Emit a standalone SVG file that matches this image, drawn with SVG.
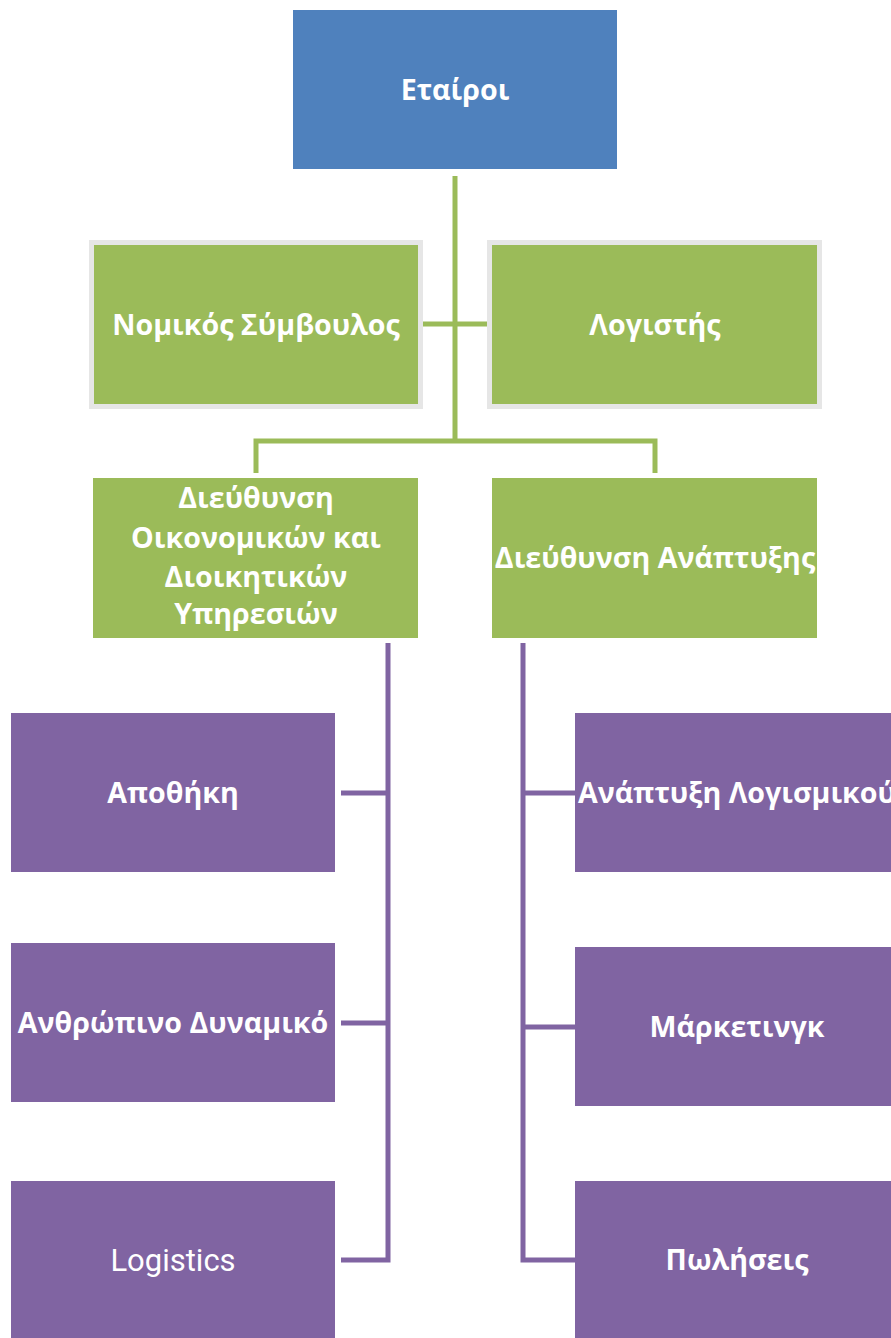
<svg xmlns="http://www.w3.org/2000/svg" width="891" height="1338" viewBox="0 0 891 1338">
<style>
.t{font-family:"Open Sans","Noto Sans","DejaVu Sans",sans-serif;font-weight:bold;font-size:28.6px;fill:#fff;text-anchor:middle}
.blue{fill:#4F81BD}
.green{fill:#9BBB59}
.greenb{fill:#9BBB59;stroke:#E6E6E6;stroke-width:5}
.purple{fill:#8064A2}
.cg{fill:none;stroke:#9BBB59;stroke-width:5}
.cp{fill:none;stroke:#8064A2;stroke-width:5}
</style>
<rect width="891" height="1338" fill="#fff"/>
<g id="connectors">
<line class="cg" x1="455" y1="176" x2="455" y2="441"/>
<line class="cg" x1="423" y1="324" x2="488" y2="324"/>
<path class="cg" d="M256 473 V441 H655 V473"/>
<path class="cp" d="M388 643 V1260 H341 M341 793 H388 M341 1023 H388"/>
<path class="cp" d="M523 643 V1260 H575 M523 793 H575 M523 1027 H575"/>
</g>
<g id="n-etairoi"><rect class="blue" x="293" y="10" width="324" height="159"/><text class="t" x="455" y="100">Εταίροι</text></g>
<g id="n-nomikos"><rect class="greenb" x="91.5" y="242.5" width="329" height="164"/><text class="t" x="256" y="335">Νομικός Σύμβουλος</text></g>
<g id="n-logistis"><rect class="greenb" x="489.5" y="242.5" width="330" height="164"/><text class="t" x="655" y="335">Λογιστής</text></g>
<g id="n-dioikisi"><rect class="green" x="93" y="478" width="325" height="160"/><text class="t" x="256" y="508">Διεύθυνση</text><text class="t" x="256" y="548">Οικονομικών και</text><text class="t" x="256" y="587">Διοικητικών</text><text class="t" x="256" y="624">Υπηρεσιών</text></g>
<g id="n-anaptyxi"><rect class="green" x="492" y="478" width="325" height="160"/><text class="t" x="655" y="568">Διεύθυνση Ανάπτυξης</text></g>
<g id="n-apothiki"><rect class="purple" x="11" y="713" width="324" height="159"/><text class="t" x="173" y="803">Αποθήκη</text></g>
<g id="n-anthropino"><rect class="purple" x="11" y="943" width="324" height="159"/><text class="t" x="173" y="1033">Ανθρώπινο Δυναμικό</text></g>
<g id="n-logistics"><rect class="purple" x="11" y="1181" width="324" height="160"/><text x="173" y="1271" style="font-family:'Liberation Sans Narrow','Roboto','Liberation Sans',sans-serif;font-size:31px;fill:#fff;text-anchor:middle">Logistics</text></g>
<g id="n-logismikou"><rect class="purple" x="575" y="713" width="324" height="159"/><text class="t" x="737" y="803">Ανάπτυξη Λογισμικού</text></g>
<g id="n-marketing"><rect class="purple" x="575" y="947" width="324" height="159"/><text class="t" x="737" y="1037">Μάρκετινγκ</text></g>
<g id="n-poliseis"><rect class="purple" x="575" y="1181" width="324" height="160"/><text class="t" x="737" y="1270">Πωλήσεις</text></g>
</svg>
